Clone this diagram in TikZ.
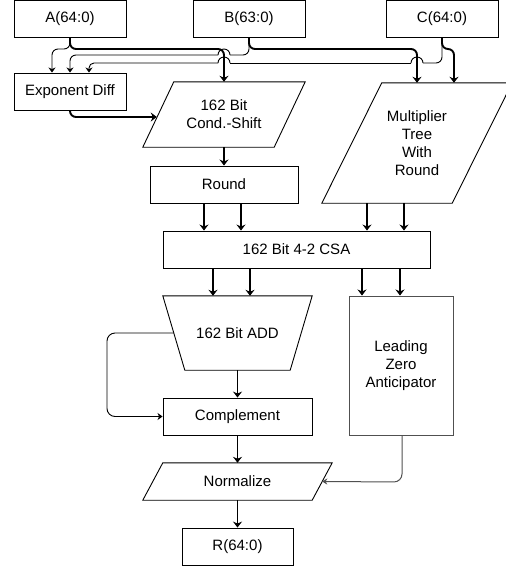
\documentclass[tikz,border=0pt]{standalone}
\usepackage{fontspec}
\setmainfont{Liberation Sans}
\usetikzlibrary{arrows.meta,calc}
\definecolor{lzgray}{RGB}{80,80,80}
\begin{document}
\begin{tikzpicture}[x=1pt,y=-1pt,
  txt/.style={font=\fontsize{15}{18}\selectfont, align=center, inner sep=0pt},
  blk/.style={txt, rectangle, draw=black, line width=0.9pt},
  ghost/.style={txt, rectangle, draw=none},
  shp/.style={draw=black, line width=0.9pt, line join=miter},
  thkl/.style={line width=1.9pt, rounded corners=6pt},
  thnl/.style={line width=0.9pt, rounded corners=6pt},
  thk/.style={thkl, -{Stealth[length=6pt,width=9pt,inset=2pt]}},
  thn/.style={thnl, -{Stealth[length=5pt,width=7pt,inset=1.5pt]}},
  gconn/.style={line width=1pt, draw=lzgray, rounded corners=8pt, -{Stealth[length=5pt,width=6pt,inset=1.5pt]}}
]
\clip (0,0) rectangle (506,566);
\useasboundingbox (0,0) rectangle (506,566);

% nodes
\node[blk, minimum width=112pt, minimum height=37pt] (A) at (70,19) {A(64:0)};
\node[blk, minimum width=112pt, minimum height=37pt] (B) at (249,19) {B(63:0)};
\node[blk, minimum width=112pt, minimum height=37pt] (C) at (442,19) {C(64:0)};
\node[blk, minimum width=112pt, minimum height=37pt] (ED) at (70,91.5) {Exponent Diff};

\node[ghost, minimum width=162pt, minimum height=65pt] (CSH) at (224,114.5) {162 Bit\\Cond.-Shift};
\draw[shp] ($(CSH.north west)+(31,0)$) -- (CSH.north east) -- ($(CSH.south east)+(-31,0)$) -- (CSH.south west) -- cycle;

\node[ghost, minimum width=190pt, minimum height=120pt] (MT) at (417,143) {Multiplier\\Tree\\With\\Round};
\draw[shp] ($(MT.north west)+(60,0)$) -- (MT.north east) -- ($(MT.south east)+(-60,0)$) -- (MT.south west) -- cycle;

\node[blk, minimum width=148pt, minimum height=37pt] (RND) at (224,184.5) {Round};
\node[blk, minimum width=267pt, minimum height=37pt] (CSA) at (296.5,249.5) {162 Bit 4-2 CSA};

\node[ghost, minimum width=149pt, minimum height=74pt] (ADD) at (237.5,333) {162 Bit ADD};
\draw[shp] (ADD.north west) -- (ADD.north east) -- ($(ADD.south east)+(-22,0)$) -- ($(ADD.south west)+(22,0)$) -- cycle;

\node[blk, draw=lzgray, line width=1pt, minimum width=104pt, minimum height=139pt] (LZA) at (401,365.5) {Leading\\Zero\\Anticipator};
\node[blk, minimum width=149pt, minimum height=37pt] (CMP) at (237.5,416.5) {Complement};

\node[ghost, minimum width=189pt, minimum height=37pt] (NRM) at (237.5,481.5) {Normalize};
\draw[shp] ($(NRM.north west)+(20,0)$) -- (NRM.north east) -- ($(NRM.south east)+(-20,0)$) -- (NRM.south west) -- cycle;

\node[blk, minimum width=111pt, minimum height=37pt] (R) at (237.5,546.5) {R(64:0)};

% top connectors
\draw[thn] (A.south) -- (70,49) -- (52,49) -- ($(ED.north)+(-18,0)$);
\draw[thk] (A.south) -- (70,49) -- (224,49) -- (CSH.north);

% B thin with jump over x=224
\draw[thnl] (B.south) -- (249,55) -- (230,55);
\draw[line width=0.9pt] (230,55) arc[start angle=0,end angle=180,radius=6pt];
\draw[thn] (218,55) -- (70,55) -- (ED.north);
\draw[thk] (B.south) -- (249,49) -- (417,49) -- (MT.north);

% C thin with jumps over x=417 and x=224
\draw[thnl] (C.south) -- (442,63) -- (423,63);
\draw[line width=0.9pt] (423,63) arc[start angle=0,end angle=180,radius=6pt];
\draw[line width=0.9pt] (411,63) -- (230,63);
\draw[line width=0.9pt] (230,63) arc[start angle=0,end angle=180,radius=6pt];
\draw[thn, rounded corners=5pt] (218,63) -- (89,63) -- ($(ED.north)+(19,0)$);
\draw[thk] (C.south) -- (442,49) -- (454,49) -- ($(MT.north)+(37,0)$);

% Exponent diff to shift
\draw[thk] (ED.south) -- (70,117) -- ($(CSH.west)+(14,2.5)$);

% shift to round
\draw[thk] (CSH.south) -- (RND.north);
% round to CSA
\draw[thk] ([xshift=-20pt]RND.south) -- ([xshift=-20pt]RND.south |- CSA.north);
\draw[thk] ([xshift=17pt]RND.south) -- ([xshift=17pt]RND.south |- CSA.north);
% multiplier to CSA
\draw[thk] ([xshift=-50pt]MT.south) -- ([xshift=-50pt]MT.south |- CSA.north);
\draw[thk] ([xshift=-13pt]MT.south) -- ([xshift=-13pt]MT.south |- CSA.north);
% CSA to ADD
\draw[thk] ([xshift=-24.5pt]ADD.north |- CSA.south) -- ([xshift=-24.5pt]ADD.north);
\draw[thk] ([xshift=12.5pt]ADD.north |- CSA.south) -- ([xshift=12.5pt]ADD.north);
% CSA to LZA
\draw[thk] ([xshift=-39pt]LZA.north |- CSA.south) -- ([xshift=-39pt]LZA.north);
\draw[thk] ([xshift=-1pt]LZA.north |- CSA.south) -- ([xshift=-1pt]LZA.north);
% ADD to complement
\draw[thk] (ADD.south) -- (CMP.north);
\draw[thn, rounded corners=8pt] ($(ADD.west)+(11,0)$) -- (107,333) -- (107,416.5) -- (CMP.west);
% complement to normalize
\draw[thk] (CMP.south) -- (NRM.north);
% LZA to normalize
\draw[gconn] ([xshift=1pt]LZA.south) -- (402,482) -- ($(NRM.east)+(-10,0)$);
% normalize to R
\draw[thk] (NRM.south) -- (R.north);
\end{tikzpicture}
\end{document}
